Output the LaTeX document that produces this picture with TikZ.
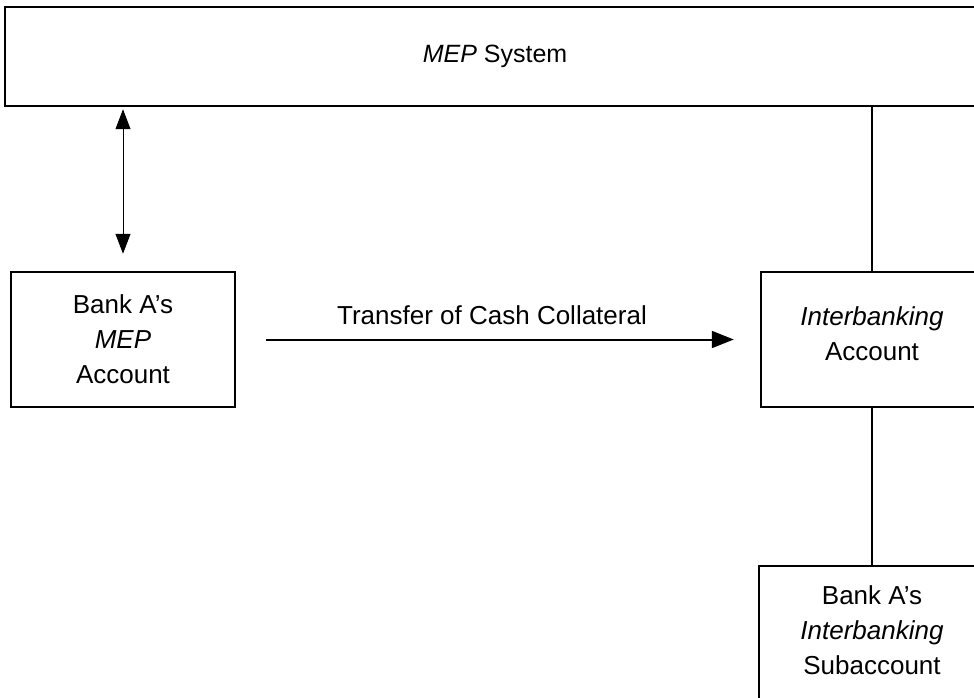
\documentclass[tikz,border=0pt]{standalone}
\usepackage{fontspec}
\setmainfont{Liberation Sans}
\usetikzlibrary{arrows.meta}
\begin{document}
\begin{tikzpicture}[x=1pt,y=-1pt,
  box/.style={draw, line width=2.5pt, inner sep=0pt, align=center,
    font=\fontsize{26}{35}\selectfont},
  link/.style={line width=2pt},
  flow/.style={line width=2pt, -{Triangle[length=22pt,width=17pt]}},
  twoway/.style={line width=1pt,
    {Triangle[length=20pt,width=15pt]}-{Triangle[length=20pt,width=15pt]}}]
\useasboundingbox (0,0) rectangle (974,698);
\clip (0,0) rectangle (974,698);

% the system and the accounts
\node[box, minimum width=980pt, minimum height=99pt,
      font=\fontsize{25}{30}\selectfont] (mep) at (495,56.5) {\textit{MEP} System};
\node[box, minimum width=224pt, minimum height=135pt] (bankmep) at (123,339.5)
  {Bank A’s\\\textit{MEP}\\Account};
\node[box, minimum width=222pt, minimum height=135pt, text depth=12pt] (inter) at (872,339.5)
  {\textit{Interbanking}\\Account};
\node[box, minimum width=226pt, minimum height=140pt, text depth=11pt] (sub) at (872,636)
  {Bank A’s\\\textit{Interbanking}\\Subaccount};

% connections
\draw[twoway, shorten <=2pt, shorten >=17pt] (bankmep.north |- mep.south) -- (bankmep.north);
\draw[link] (inter.north) -- (inter.north |- mep.south);
\draw[link] (inter.south) -- (sub.north);
\draw[flow, shorten <=30pt, shorten >=26pt] (bankmep) --
  node[above=10pt, xshift=-6pt, font=\fontsize{26}{30}\selectfont] (lbl) {Transfer of Cash Collateral} (inter);
\end{tikzpicture}
\end{document}
